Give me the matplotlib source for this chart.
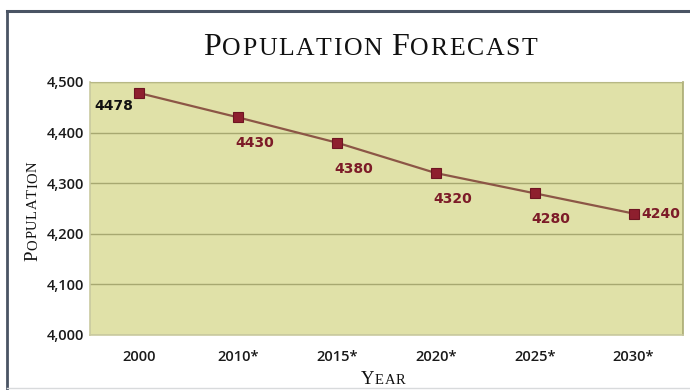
import matplotlib
matplotlib.use("Agg")
import matplotlib.pyplot as plt
from matplotlib.lines import Line2D
from matplotlib.ticker import FuncFormatter

years = ["2000", "2010*", "2015*", "2020*", "2025*", "2030*"]
population = [4478, 4430, 4380, 4320, 4280, 4240]
yticks = [4000, 4100, 4200, 4300, 4400, 4500]
title = "Population Forecast"
xlabel = "Year"
ylabel = "Population"

W, H = 690, 390
fig = plt.figure(figsize=(W / 100, H / 100), dpi=100, facecolor="white")
ax = fig.add_axes([90 / W, 1 - 335 / H, 593 / W, 253 / H])
ax.set_facecolor("#e0e1a8")

x = list(range(len(years)))
ax.plot(x, population, color="#8c5646", lw=1.6, zorder=3)
ax.plot(x, population, ls="none", marker="s", ms=6.5, mfc="#8e1f2e",
        mec="#6e1522", mew=0.8, zorder=4)

ax.set_xlim(-0.5, len(years) - 0.5)
ax.set_ylim(4000, 4500)
ax.set_yticks(yticks)
ax.yaxis.set_major_formatter(FuncFormatter(lambda v, p: f"{int(v):,}"))
ax.set_xticks(x)
ax.set_xticklabels(years)
ax.grid(axis="y", color="#a7a870", lw=1.0)
ax.set_axisbelow(True)
ax.tick_params(length=0)
ax.tick_params(axis="y", pad=4)
ax.tick_params(axis="x", pad=11)
for lab in ax.get_xticklabels() + ax.get_yticklabels():
    lab.set_fontfamily("Open Sans")
    lab.set_fontweight("semibold")
    lab.set_fontsize(10.5)
    lab.set_color("#1a1a1a")
for s in ["left", "bottom"]:
    ax.spines[s].set_color("#c9c9a0")
    ax.spines[s].set_linewidth(1.2)
ax.spines["top"].set_color("#b7b886")
ax.spines["right"].set_color("#a9aa72")
ax.spines["right"].set_linewidth(1.2)

# data labels
for i, v in enumerate(population):
    if i == 0:
        ax.annotate(str(v), (i, v), xytext=(-6, -13), textcoords="offset pixels",
                    ha="right", va="center", fontsize=10, fontweight="heavy",
                    family="DejaVu Sans", color="#111111", zorder=5)
    elif i == len(population) - 1:
        ax.annotate(str(v), (i, v), xytext=(8, 0), textcoords="offset pixels",
                    ha="left", va="center", fontsize=10, fontweight="heavy",
                    family="DejaVu Sans", color="#7c1b28", zorder=5)
    else:
        ax.annotate(str(v), (i, v), xytext=(-3, -26), textcoords="offset pixels",
                    ha="left", va="center", fontsize=10, fontweight="heavy",
                    family="DejaVu Sans", color="#7c1b28", zorder=5)

fig.canvas.draw()
renderer = fig.canvas.get_renderer()


def smallcaps(xc, yc, text, big, small, rotation=0, track=0.0,
              family="Liberation Serif", color="#111111"):
    objs = []
    advs = []
    for ch in text:
        size = big if ch.isupper() else small
        if ch == " ":
            objs.append(None)
            advs.append(0.28 * small * 100 / 72)
            continue
        t = fig.text(0, 0, ch.upper(), fontsize=size, family=family,
                     color=color, rotation=rotation, ha="left", va="baseline",
                     rotation_mode="anchor", transform=None)
        bb = t.get_window_extent(renderer)
        w = bb.height if rotation == 90 else bb.width
        objs.append(t)
        advs.append(w + track)
    total = sum(advs) - track
    xp, yp = xc * W, yc * H
    pos = -total / 2
    for t, a in zip(objs, advs):
        if t is not None:
            if rotation == 90:
                t.set_position((xp, yp + pos))
            else:
                t.set_position((xp + pos, yp))
        pos += a


smallcaps(370 / W, 1 - 55 / H, title, 23, 18.5, track=1.6)
smallcaps(383 / W, 1 - 384 / H, xlabel, 13.5, 10.5, track=0.6)
smallcaps(37 / W, 1 - 211 / H, ylabel, 13.5, 10.5, rotation=90, track=0.6)

# frame lines
fig.add_artist(Line2D([7 / W, 1], [1 - 11 / H, 1 - 11 / H], color="#4a5464",
                      lw=2.2, transform=fig.transFigure))
fig.add_artist(Line2D([7 / W, 7 / W], [1 - 11 / H, 0], color="#4a5464",
                      lw=2.0, transform=fig.transFigure))
fig.add_artist(Line2D([7 / W, 1], [1 - 388 / H, 1 - 388 / H], color="#d8dadc",
                      lw=1.0, transform=fig.transFigure))

fig.savefig("out.png", dpi=100, facecolor="white")
